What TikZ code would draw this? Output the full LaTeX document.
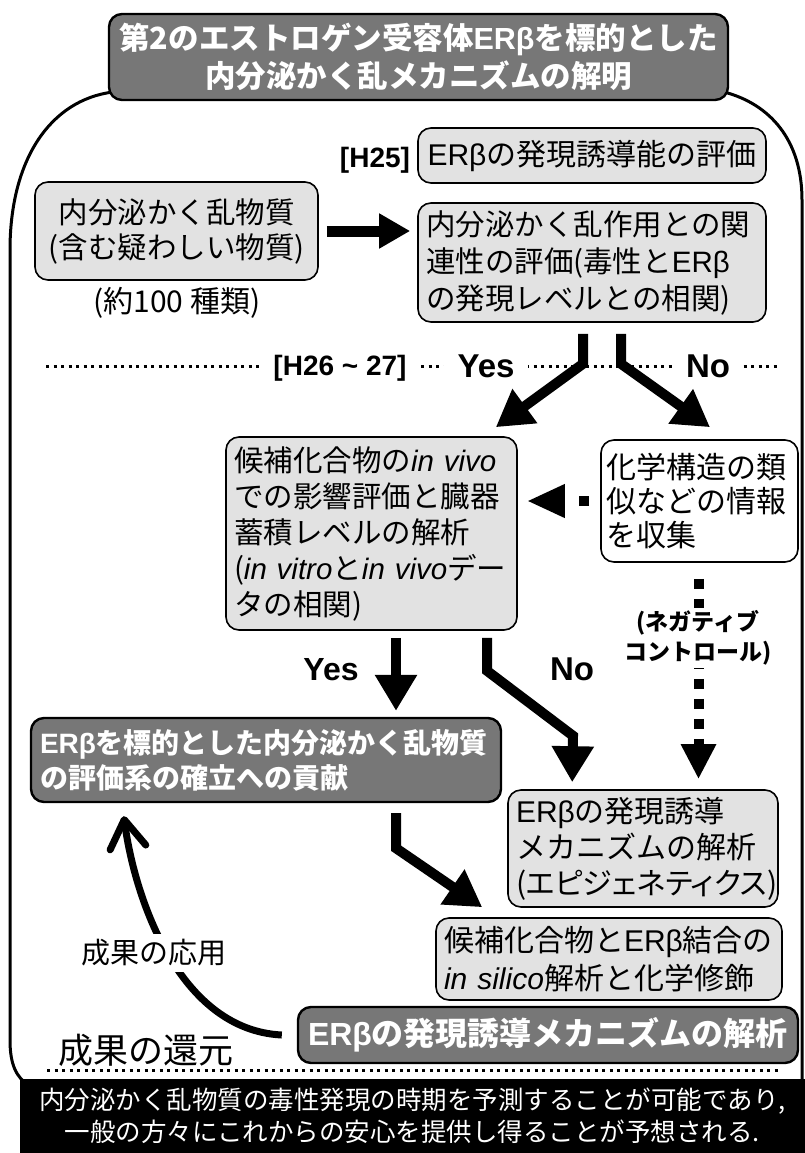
\documentclass[tikz,border=0pt]{standalone}
\usepackage{fontspec}
\setmainfont{Liberation Sans}
\newfontfamily\jp{Noto Sans CJK JP}
\newfontfamily\lat{Liberation Sans}
\usetikzlibrary{arrows.meta,calc}
\newcommand\ERb{{\lat ERβ}}
\newcommand\ita[1]{{\lat\itshape #1}}
\newcommand\fs[2]{\fontsize{#1}{#2}\selectfont}
\definecolor{lgray}{HTML}{E2E2E2}
\definecolor{dgray}{HTML}{777777}
\begin{document}
\begin{tikzpicture}[x=1pt,y=-1pt,
  lbox/.style={draw, line width=1.6pt, rounded corners=13pt, fill=lgray, inner xsep=8pt, inner ysep=0pt, align=left},
  dbox/.style={draw, line width=2.4pt, rounded corners=13pt, fill=dgray, text=white, inner xsep=9pt, inner ysep=0pt},
  fat/.style={line width=10pt, -{Triangle[length=36pt,width=40pt]}},
  dfat/.style={line width=10pt, dash pattern=on 10pt off 15pt, -{Triangle[length=38pt,width=31pt]}},
  lbl/.style={font=\lat\bfseries\fs{30}{36}, inner sep=0pt, anchor=base},
  dotsep/.style={line width=3pt, dash pattern=on 3pt off 4.5pt},
]
\useasboundingbox (0,0) rectangle (805,1153);
% outer frame
\draw[line width=3pt] (113,92) .. controls (50,100) and (10,160) .. (10,250) -- (10,1040) .. controls (10,1064) and (16,1078) .. (30,1086);
\draw[line width=3pt] (724,92) .. controls (770,104) and (802,140) .. (802,200) -- (802,1086);
% bottom banner
\node[fill=black, minimum width=785pt, minimum height=75pt, inner sep=0pt, text=white, align=center, font=\jp\fs{25.5}{32}] (banner) at (412.5,1116) {内分泌かく乱物質の毒性発現の時期を予測することが可能であり,\\一般の方々にこれからの安心を提供し得ることが予想される.};
% title
\node[dbox, minimum width=619pt, minimum height=86pt, align=center, font=\jp\bfseries\fs{30.5}{38}] (title) at (418.5,57) {第2のエストロゲン受容体\ERb を標的とした\\内分泌かく乱メカニズムの解明};
% dotted separators
\draw[dotsep] (46,366) -- (778,366);
\draw[dotsep] (47,1070) -- (780,1070);
% labels
\node[lbl, font=\lat\bfseries\fs{28}{34}] (h25) at (375,167) {[H25]};
\node[lbl, font=\lat\bfseries\fs{28}{34}, fill=white, inner xsep=14pt] (h2627) at (340,375) {[H26 \textasciitilde{} 27]};
\node[lbl, font=\lat\bfseries\fs{33}{38}, fill=white, inner xsep=14pt] (yes1) at (486,377) {Yes};
\node[lbl, font=\lat\bfseries\fs{33}{38}, fill=white, inner xsep=13pt] (no1) at (708,377) {No};
% boxes
\node[lbox, minimum width=348pt, minimum height=55pt, align=center, font=\jp\fs{30}{36}] (h25box) at (592,155.5) {\ERb の発現誘導能の評価};
\node[lbox, minimum width=283pt, minimum height=98pt, align=center, font=\jp\fs{29.5}{35}] (src) at (176.5,231) {内分泌かく乱物質\\(含む疑わしい物質)};
\node[font=\jp\fs{30}{34}, inner sep=0pt] (kinds) at (177,303) {(約100 種類)};
\node[lbox, minimum width=348pt, minimum height=119pt, text width=332pt, font=\jp\fs{29.5}{37}] (eval) at (592,262.5) {内分泌かく乱作用との関\\連性の評価(毒性と\ERb\\の発現レベルとの相関)};
\node[lbox, minimum width=291pt, minimum height=193pt, text width=275pt, font=\jp\fs{29.5}{36}] (vivo) at (371.5,533.5) {候補化合物の\ita{in~vivo}\\での影響評価と臓器\\蓄積レベルの解析\\(\ita{in~vitro}と\ita{in~vivo}デー\\タの相関)};
\node[lbox, fill=white, inner xsep=5pt, minimum width=197pt, minimum height=122pt, text width=187pt, font=\jp\fs{30}{34}] (info) at (699.5,501) {化学構造の類\\似などの情報\\を収集};
\node[lbl, font=\lat\bfseries\fs{32}{38}] (yes2) at (331,680) {Yes};
\node[lbl, font=\lat\bfseries\fs{33}{38}] (no2) at (572,680) {No};
\node[dbox, align=left, minimum width=470pt, minimum height=84pt, text width=452pt, font=\jp\bfseries\fs{28}{35}] (contrib) at (266,760) {\ERb を標的とした内分泌かく乱物質\\の評価系の確立への貢献};
\node[lbox, minimum width=270pt, minimum height=117pt, text width=254pt, font=\jp\fs{30}{36}] (mech) at (643,848.5) {\ERb の発現誘導\\メカニズムの解析\\{\addfontfeature{RawFeature=+palt}(エピジェネティクス)}};
\node[lbox, minimum width=346pt, minimum height=82pt, text width=330pt, font=\jp\fs{30}{38}] (silico) at (609,959) {候補化合物と\ERb 結合の\\\ita{in~silico}解析と化学修飾};
\node[dbox, align=center, minimum width=500pt, minimum height=56pt, font=\jp\bfseries\fs{32}{38}] (mech2) at (548,1035) {\ERb の発現誘導メカニズムの解析};
\node[font=\jp\fs{35}{40}, inner sep=0pt] (kangen) at (146,1050) {成果の還元};
% connectors
\draw[line width=11pt, -{Triangle[length=31pt,width=33pt]}] ($(src.east)+(8,0)$) -- ($(eval.west |- src.east)+(-7,0)$);
\draw[fat] ($(eval.south)+(-9,11)$) -- ++(0,30) -- ($(vivo.north east)+(-22,-9)$);
\draw[fat] ($(eval.south)+(29,11)$) -- ++(0,30) -- ($(info.north)+(10.5,-12)$);
\draw[dfat] ($(info.west)+(-11,0)$) -- ($(vivo.east |- info.west)+(9,0)$);
\draw[line width=10pt, dash pattern=on 10pt off 10pt, -{Triangle[length=35pt,width=33pt]}] ($(info.south)+(-1,16)$) -- ($(info.south |- mech.north)+(-1,-10)$);
\node[font=\jp\bfseries\fs{23}{30}, fill=white, inner xsep=2pt, inner ysep=3pt, align=center] (neg) at (698,638) {(ネガティブ\\コントロール)};
\draw[fat] ($(vivo.south)+(24.5,7)$) -- ($(contrib.north)+(130,-6)$);
\draw[fat] ($(vivo.south)+(115.5,7)$) -- ++(0,33) -- ++(86,65) -- ($(mech.north west)+(65,-7)$);
\draw[fat] ($(contrib.south)+(130,10)$) -- ++(0,35) -- ($(silico.north west)+(47,-10)$);
\draw[line width=7pt, -{Straight Barb[length=28pt,width=36pt,round]}] ($(mech2.west)+(-15,0)$) .. controls (180,1030) and (135,900) .. ($(contrib.south west)+(94,13)$);
\node[font=\jp\fs{29}{34}, fill=white, inner xsep=4pt, inner ysep=6pt] (ouyou) at (154,953) {成果の応用};
\end{tikzpicture}
\end{document}
